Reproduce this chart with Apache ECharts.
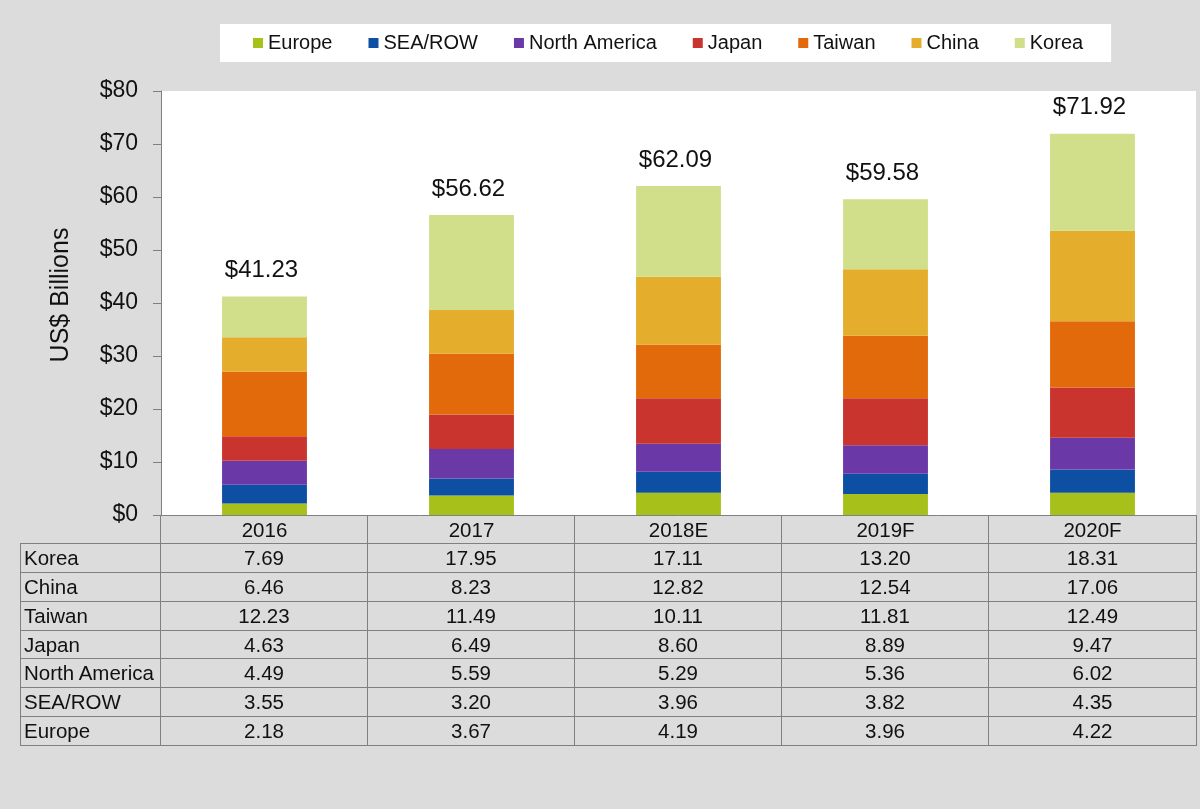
<!DOCTYPE html>
<html>
<head>
<meta charset="utf-8">
<script src="https://cdn.jsdelivr.net/npm/echarts@6/dist/echarts.min.js"></script>
<style>
  html, body { margin:0; padding:0; background:#dcdcdc; }
  #wrap { position:relative; width:1200px; height:809px; background:#dcdcdc; overflow:hidden; }
  #chart { position:absolute; left:0; top:0; width:1200px; height:809px; }
  #tbl { position:absolute; left:20px; top:515px; border-collapse:collapse; table-layout:fixed;
         font-family:'Liberation Sans', Arial, sans-serif; font-size:20.5px; color:#111; }
  #tbl td { border:1px solid #808080; height:27.9px; padding:0; line-height:20px; }
  #tbl td.lab { text-align:left; padding-left:3px; white-space:nowrap; }
  #tbl td.val { text-align:center; }
  #tbl tr.head td { border-top:none; }
  #tbl tr.head td.blank { border:none; border-right:1px solid #808080; }
</style>
</head>
<body>
<div id="wrap">
  <div id="chart"></div>
  <table id="tbl"></table>
</div>
<script>
// ---- data ----
var categories = ['2016', '2017', '2018E', '2019F', '2020F'];
var europe       = [2.18, 3.67, 4.19, 3.96, 4.22];
var seaRow       = [3.55, 3.20, 3.96, 3.82, 4.35];
var northAmerica = [4.49, 5.59, 5.29, 5.36, 6.02];
var japan        = [4.63, 6.49, 8.60, 8.89, 9.47];
var taiwan       = [12.23, 11.49, 10.11, 11.81, 12.49];
var china        = [6.46, 8.23, 12.82, 12.54, 17.06];
var korea        = [7.69, 17.95, 17.11, 13.20, 18.31];
var totals       = ['$41.23', '$56.62', '$62.09', '$59.58', '$71.92'];
var seriesNames  = ['Europe', 'SEA/ROW', 'North America', 'Japan', 'Taiwan', 'China', 'Korea'];
var colors       = ['#a8c01a', '#0d4fa3', '#6a38a7', '#c9342f', '#e26a0b', '#e4ad2c', '#d1df8a'];

var seriesData = [europe, seaRow, northAmerica, japan, taiwan, china, korea];
var FONT = "'Liberation Sans', Arial, sans-serif";

var series = seriesNames.map(function (name, i) {
  var s = {
    name: name,
    type: 'bar',
    stack: 'total',
    barWidth: '41%',
    data: seriesData[i],
    itemStyle: { color: colors[i] },
    emphasis: { disabled: true }
  };
  if (i === seriesNames.length - 1) {
    s.label = {
      show: true,
      position: 'top',
      distance: 14,
      offset: [-3, 0],
      fontFamily: FONT,
      fontSize: 24,
      color: '#111',
      formatter: function (p) { return totals[p.dataIndex]; }
    };
  }
  return s;
});

var chart = echarts.init(document.getElementById('chart'));
chart.setOption({
  animation: false,
  backgroundColor: 'transparent',
  textStyle: { fontFamily: FONT },
  color: colors,
  legend: {
    data: seriesNames,
    left: 220,
    top: 24,
    padding: [9, 28, 9, 33],
    backgroundColor: '#ffffff',
    itemWidth: 10,
    itemHeight: 10,
    itemGap: 36,
    icon: 'rect',
    textStyle: { fontSize: 20, color: '#111', fontFamily: FONT }
  },
  grid: {
    left: 161, right: 4, top: 91, bottom: 294,
    show: true, backgroundColor: '#ffffff', borderWidth: 0,
    containLabel: false
  },
  xAxis: {
    type: 'category',
    data: categories,
    axisLine: { show: true, lineStyle: { color: '#808080', width: 1 } },
    axisTick: { show: false },
    axisLabel: { margin: 6, fontSize: 20.5, color: '#111', fontFamily: FONT }
  },
  yAxis: {
    type: 'value',
    min: 0, max: 80, interval: 10,
    name: 'US$ Billions',
    nameLocation: 'middle',
    nameGap: 87,
    nameRotate: 90,
    nameTextStyle: { fontSize: 25, color: '#111', fontFamily: FONT, padding: [0, 0, 0, 16] },
    axisLine: { show: true, lineStyle: { color: '#808080', width: 1 } },
    axisTick: { show: true, length: 8, lineStyle: { color: '#808080' } },
    splitLine: { show: false },
    axisLabel: {
      margin: 23, fontSize: 23, color: '#111', fontFamily: FONT,
      formatter: function (v) { return '$' + v; }
    }
  },
  series: series
});

// ---- data table below the chart ----
var tbl = document.getElementById('tbl');
var colW = [140, 207, 207, 207, 207, 208];
var html = '<colgroup>' + colW.map(function (w) { return '<col style="width:' + w + 'px">'; }).join('') + '</colgroup>';
html += '<tr class="head"><td class="blank"></td>' + categories.map(function () { return '<td class="val"></td>'; }).join('') + '</tr>';
for (var r = seriesNames.length - 1; r >= 0; r--) {
  html += '<tr><td class="lab">' + seriesNames[r] + '</td>' +
    seriesData[r].map(function (v) { return '<td class="val">' + v.toFixed(2) + '</td>'; }).join('') + '</tr>';
}
tbl.innerHTML = html;
</script>
</body>
</html>
